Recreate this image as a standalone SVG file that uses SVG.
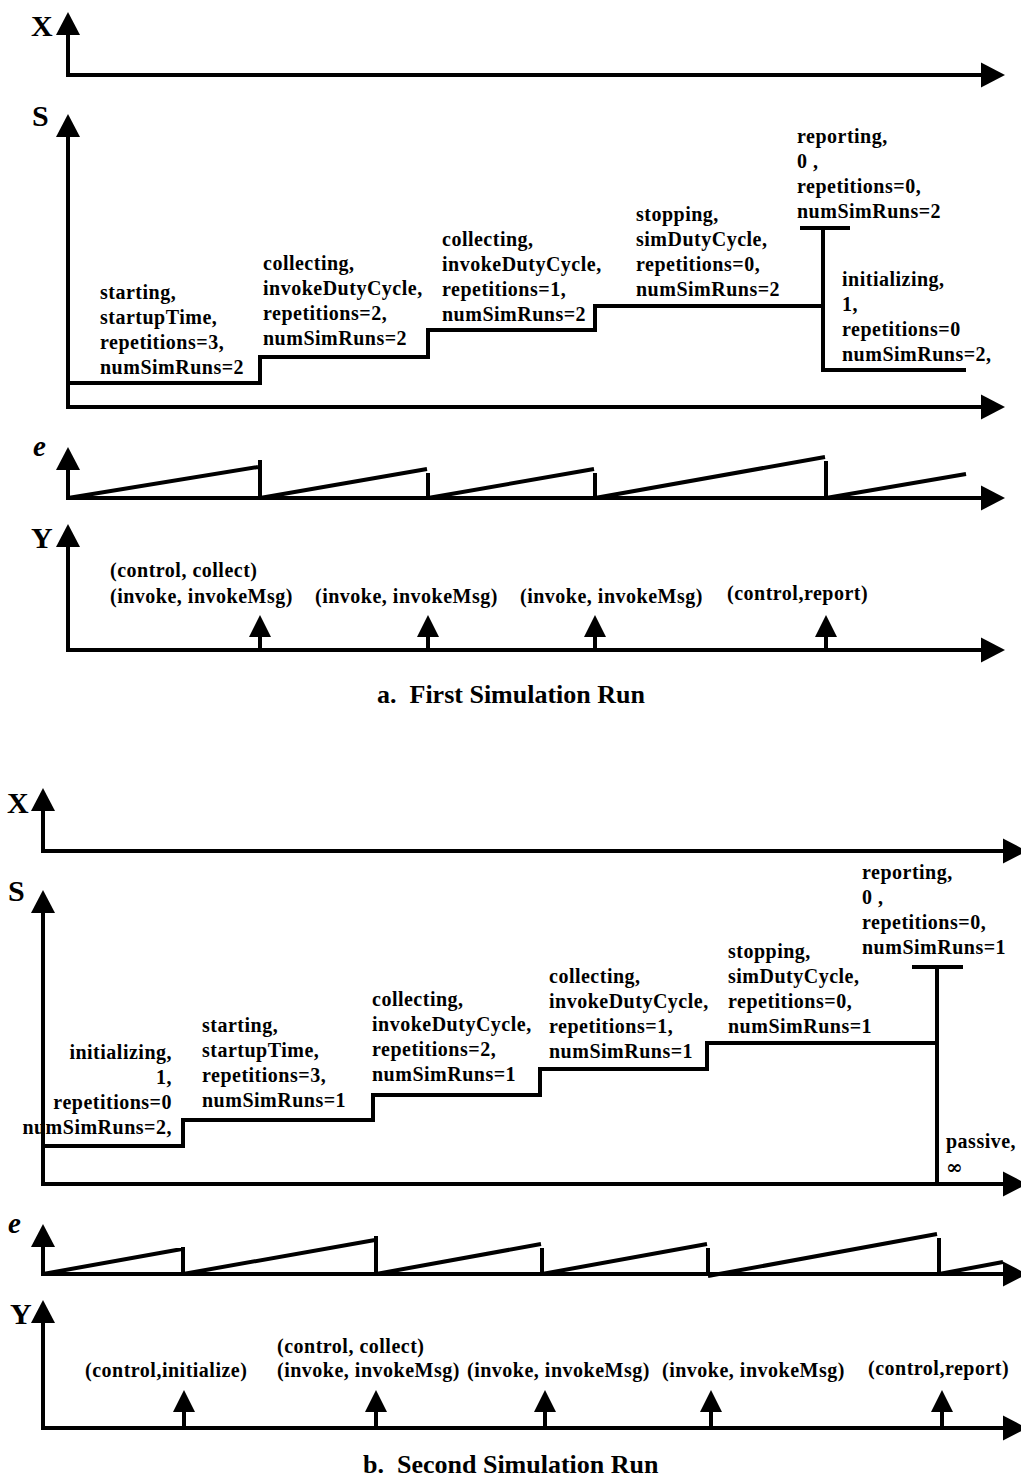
<svg xmlns="http://www.w3.org/2000/svg" xmlns:xlink="http://www.w3.org/1999/xlink" width="1021" height="1478" viewBox="0 0 1021 1478">
<style>
  .ln { fill: none; stroke: #000; stroke-width: 4; stroke-linecap: butt; stroke-linejoin: miter; }
  .ah { fill: #000; stroke: none; }
  .lbl { font-family: "Liberation Serif", "Times New Roman", serif; font-weight: bold; font-size: 20px; letter-spacing: 0.5px; fill: #000; }
  .inf { font-family: "DejaVu Serif", "Liberation Serif", serif; font-weight: bold; font-size: 20px; fill: #000; }
  .ax { font-family: "Liberation Serif", "Times New Roman", serif; font-weight: bold; font-size: 30px; fill: #000; }
  .axi { font-family: "Liberation Serif", "Times New Roman", serif; font-weight: bold; font-style: italic; font-size: 29px; fill: #000; }
  .cap { font-family: "Liberation Serif", "Times New Roman", serif; font-weight: bold; font-size: 26px; fill: #000; }
</style>
<defs>
  <path id="ahUp" d="M0,0 L-12,23 L12,23 Z"/>
  <path id="ahRight" d="M0,0 L-24,-12.5 L-24,12.5 Z"/>
  <path id="ahUpS" d="M0,0 L-11,22 L11,22 Z"/>
</defs>
<rect width="1021" height="1478" fill="#fff"/>

<!-- ================= PART A ================= -->
<g id="a-axes">
  <text class="ax" x="31" y="36">X</text>
  <path class="ln" d="M68,34 V75 H982"/>
  <use href="#ahUp" x="68" y="12" class="ah"/>
  <use href="#ahRight" x="1005" y="75" class="ah"/>

  <text class="ax" x="32" y="126">S</text>
  <path class="ln" d="M68,136 V407 H982"/>
  <use href="#ahUp" x="68" y="114" class="ah"/>
  <use href="#ahRight" x="1005" y="407" class="ah"/>

  <text class="axi" x="33" y="456">e</text>
  <path class="ln" d="M68,469 V498 H982"/>
  <use href="#ahUp" x="68" y="447" class="ah"/>
  <use href="#ahRight" x="1005" y="498" class="ah"/>

  <text class="ax" x="31" y="548">Y</text>
  <path class="ln" d="M68,546 V650 H982"/>
  <use href="#ahUp" x="68" y="524" class="ah"/>
  <use href="#ahRight" x="1005" y="650" class="ah"/>
</g>

<g id="a-connectors">
  <!-- state trajectory -->
  <path class="ln" d="M68,383 H260 V357 H428 V330 H595 V306 H823"/>
  <path class="ln" d="M823,228 V370 H966"/>
  <path class="ln" d="M800,228 H850"/>
  <!-- elapsed time sawtooth -->
  <path class="ln" d="M68,498 L258,467 M260,460 V498"/>
  <path class="ln" d="M260,498 L427,469 M428,473 V498"/>
  <path class="ln" d="M428,498 L594,469 M595,473 V498"/>
  <path class="ln" d="M595,498 L825,457 M826,461 V498"/>
  <path class="ln" d="M826,498 L966,474"/>
  <!-- output events -->
  <path class="ln" d="M260,636 V650 M428,636 V650 M595,636 V650 M826,636 V650"/>
  <use href="#ahUpS" x="260" y="615" class="ah"/>
  <use href="#ahUpS" x="428" y="615" class="ah"/>
  <use href="#ahUpS" x="595" y="615" class="ah"/>
  <use href="#ahUpS" x="826" y="615" class="ah"/>
</g>

<g id="a-state-starting">
  <text class="lbl" x="100" y="299">starting,</text>
  <text class="lbl" x="100" y="324">startupTime,</text>
  <text class="lbl" x="100" y="349">repetitions=3,</text>
  <text class="lbl" x="100" y="374">numSimRuns=2</text>
</g>
<g id="a-state-collecting1">
  <text class="lbl" x="263" y="270">collecting,</text>
  <text class="lbl" x="263" y="295">invokeDutyCycle,</text>
  <text class="lbl" x="263" y="320">repetitions=2,</text>
  <text class="lbl" x="263" y="345">numSimRuns=2</text>
</g>
<g id="a-state-collecting2">
  <text class="lbl" x="442" y="246">collecting,</text>
  <text class="lbl" x="442" y="271">invokeDutyCycle,</text>
  <text class="lbl" x="442" y="296">repetitions=1,</text>
  <text class="lbl" x="442" y="321">numSimRuns=2</text>
</g>
<g id="a-state-stopping">
  <text class="lbl" x="636" y="221">stopping,</text>
  <text class="lbl" x="636" y="246">simDutyCycle,</text>
  <text class="lbl" x="636" y="271">repetitions=0,</text>
  <text class="lbl" x="636" y="296">numSimRuns=2</text>
</g>
<g id="a-state-reporting">
  <text class="lbl" x="797" y="143">reporting,</text>
  <text class="lbl" x="797" y="168">0 ,</text>
  <text class="lbl" x="797" y="193">repetitions=0,</text>
  <text class="lbl" x="797" y="218">numSimRuns=2</text>
</g>
<g id="a-state-initializing">
  <text class="lbl" x="842" y="286">initializing,</text>
  <text class="lbl" x="842" y="311">1,</text>
  <text class="lbl" x="842" y="336">repetitions=0</text>
  <text class="lbl" x="842" y="361">numSimRuns=2,</text>
</g>
<g id="a-outputs">
  <text class="lbl" x="110" y="577">(control, collect)</text>
  <text class="lbl" x="110" y="603">(invoke, invokeMsg)</text>
  <text class="lbl" x="315" y="603">(invoke, invokeMsg)</text>
  <text class="lbl" x="520" y="603">(invoke, invokeMsg)</text>
  <text class="lbl" x="727" y="600">(control,report)</text>
</g>
<text id="caption-a" class="cap" x="377" y="703">a.&#160; First Simulation Run</text>

<!-- ================= PART B ================= -->
<g id="b-axes">
  <text class="ax" x="7" y="813">X</text>
  <path class="ln" d="M43,810 V851 H1003"/>
  <use href="#ahUp" x="43" y="788" class="ah"/>
  <use href="#ahRight" x="1027" y="851" class="ah"/>

  <text class="ax" x="8" y="901">S</text>
  <path class="ln" d="M43,912 V1184 H1003"/>
  <use href="#ahUp" x="43" y="890" class="ah"/>
  <use href="#ahRight" x="1027" y="1184" class="ah"/>

  <text class="axi" x="8" y="1233">e</text>
  <path class="ln" d="M43,1246 V1274 H1003"/>
  <use href="#ahUp" x="43" y="1224" class="ah"/>
  <use href="#ahRight" x="1027" y="1274" class="ah"/>

  <text class="ax" x="10" y="1324">Y</text>
  <path class="ln" d="M43,1322 V1428 H1003"/>
  <use href="#ahUp" x="43" y="1300" class="ah"/>
  <use href="#ahRight" x="1027" y="1428" class="ah"/>
</g>

<g id="b-connectors">
  <!-- state trajectory -->
  <path class="ln" d="M43,1146 H183 V1120 H373 V1095 H540 V1069 H707 V1043 H937"/>
  <path class="ln" d="M937,967 V1184"/>
  <path class="ln" d="M912,967 H963"/>
  <!-- elapsed time sawtooth -->
  <path class="ln" d="M43,1274 L182,1249 M183,1247 V1274"/>
  <path class="ln" d="M183,1274 L375,1240 M376,1236 V1274"/>
  <path class="ln" d="M376,1274 L541,1244 M542,1248 V1274"/>
  <path class="ln" d="M542,1274 L707,1244 M708,1248 V1276"/>
  <path class="ln" d="M708,1276 L937,1234 M939,1238 V1274"/>
  <path class="ln" d="M939,1274 L1003,1262"/>
  <!-- output events -->
  <path class="ln" d="M184,1412 V1428 M376,1412 V1428 M545,1412 V1428 M711,1412 V1428 M942,1412 V1428"/>
  <use href="#ahUpS" x="184" y="1390" class="ah"/>
  <use href="#ahUpS" x="376" y="1390" class="ah"/>
  <use href="#ahUpS" x="545" y="1390" class="ah"/>
  <use href="#ahUpS" x="711" y="1390" class="ah"/>
  <use href="#ahUpS" x="942" y="1390" class="ah"/>
</g>

<g id="b-state-initializing">
  <text class="lbl" x="172" y="1059" text-anchor="end">initializing,</text>
  <text class="lbl" x="172" y="1084" text-anchor="end">1,</text>
  <text class="lbl" x="172" y="1109" text-anchor="end">repetitions=0</text>
  <text class="lbl" x="172" y="1134" text-anchor="end">numSimRuns=2,</text>
</g>
<g id="b-state-starting">
  <text class="lbl" x="202" y="1032">starting,</text>
  <text class="lbl" x="202" y="1057">startupTime,</text>
  <text class="lbl" x="202" y="1082">repetitions=3,</text>
  <text class="lbl" x="202" y="1107">numSimRuns=1</text>
</g>
<g id="b-state-collecting1">
  <text class="lbl" x="372" y="1006">collecting,</text>
  <text class="lbl" x="372" y="1031">invokeDutyCycle,</text>
  <text class="lbl" x="372" y="1056">repetitions=2,</text>
  <text class="lbl" x="372" y="1081">numSimRuns=1</text>
</g>
<g id="b-state-collecting2">
  <text class="lbl" x="549" y="983">collecting,</text>
  <text class="lbl" x="549" y="1008">invokeDutyCycle,</text>
  <text class="lbl" x="549" y="1033">repetitions=1,</text>
  <text class="lbl" x="549" y="1058">numSimRuns=1</text>
</g>
<g id="b-state-stopping">
  <text class="lbl" x="728" y="958">stopping,</text>
  <text class="lbl" x="728" y="983">simDutyCycle,</text>
  <text class="lbl" x="728" y="1008">repetitions=0,</text>
  <text class="lbl" x="728" y="1033">numSimRuns=1</text>
</g>
<g id="b-state-reporting">
  <text class="lbl" x="862" y="879">reporting,</text>
  <text class="lbl" x="862" y="904">0 ,</text>
  <text class="lbl" x="862" y="929">repetitions=0,</text>
  <text class="lbl" x="862" y="954">numSimRuns=1</text>
</g>
<g id="b-state-passive">
  <text class="lbl" x="946" y="1148">passive,</text>
  <text class="inf" x="946" y="1174">∞</text>
</g>
<g id="b-outputs">
  <text class="lbl" x="85" y="1377">(control,initialize)</text>
  <text class="lbl" x="277" y="1353">(control, collect)</text>
  <text class="lbl" x="277" y="1377">(invoke, invokeMsg)</text>
  <text class="lbl" x="467" y="1377">(invoke, invokeMsg)</text>
  <text class="lbl" x="662" y="1377">(invoke, invokeMsg)</text>
  <text class="lbl" x="868" y="1375">(control,report)</text>
</g>
<text id="caption-b" class="cap" x="363" y="1473">b.&#160; Second Simulation Run</text>
</svg>
